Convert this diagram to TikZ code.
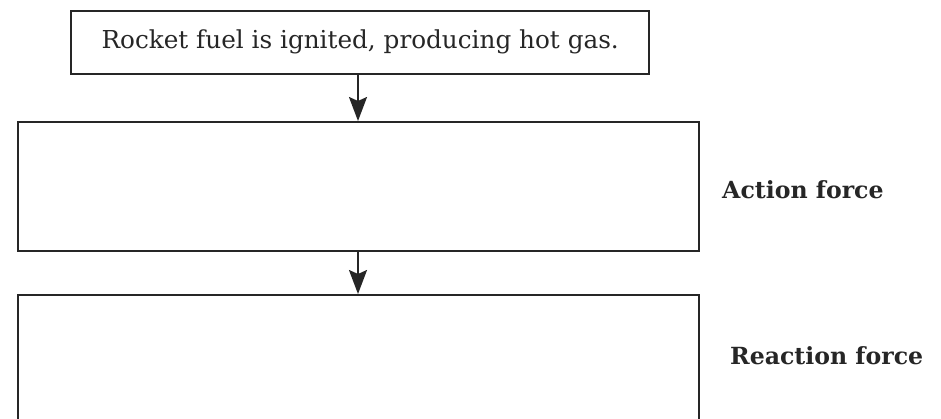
\documentclass[tikz,border=0pt]{standalone}
\usepackage{fontspec}
\setmainfont{DejaVu Serif}
\usetikzlibrary{arrows.meta}
\definecolor{ink}{HTML}{262626}
\tikzset{
  x=1pt, y=-1pt,
  flowbox/.style={draw=ink, line width=2.4pt, rectangle, inner sep=0pt, anchor=north west},
  flowarrow/.style={draw=ink, line width=2pt,
    -{Stealth[length=24pt, width=18pt, inset=4pt]}},
  sidelabel/.style={font=\fontsize{23.6}{26}\selectfont\bfseries, text=ink, anchor=west, inner sep=0pt},
}
\begin{document}
\begin{tikzpicture}
  \useasboundingbox (0,0) rectangle (941,418);
  \clip (0,0) rectangle (941,418);
  % top box with the starting statement
  \node[flowbox, minimum width=578pt, minimum height=63pt] (fuel) at (70,10) {};
  \node[font=\fontsize{24.7}{28}\selectfont, text=ink] (fueltext) at ([yshift=1pt]fuel.center)
    {Rocket fuel is ignited, producing hot gas.};
  % empty answer boxes
  \node[flowbox, minimum width=681pt, minimum height=129pt] (action) at (17,121) {};
  \node[flowbox, minimum width=681pt, minimum height=160pt] (reaction) at (17,294) {};
  % force labels
  \node[sidelabel] (actionlbl) at (722,190) {Action force};
  \node[sidelabel] (reactionlbl) at (730,356) {Reaction force};
  % arrows between the boxes
  \draw[flowarrow] (fuel.south -| 358,0) -- (action.north -| 358,0);
  \draw[flowarrow] (action.south -| 358,0) -- (reaction.north -| 358,0);
\end{tikzpicture}
\end{document}
